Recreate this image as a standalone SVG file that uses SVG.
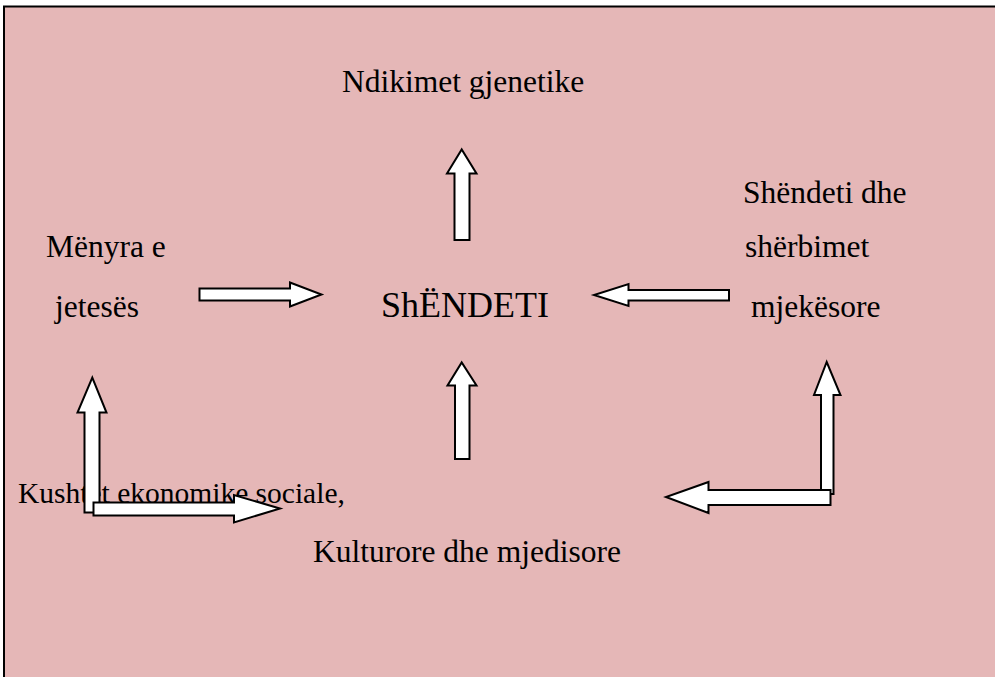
<svg xmlns="http://www.w3.org/2000/svg" width="995" height="677" viewBox="0 0 995 677">
<style>
.t{font-family:"Liberation Serif","Times New Roman",serif;font-size:31.5px;fill:#000}
.a{fill:#fff;stroke:#000;stroke-width:2;stroke-linejoin:miter}
</style>
<rect x="0" y="0" width="995" height="677" fill="#fff"/>
<rect id="frame" x="4" y="6.5" width="1000" height="700" fill="#E5B7B7" stroke="#000" stroke-width="2"/>
<g id="ndikimet"><text class="t" x="342" y="92">Ndikimet gjenetike</text></g>
<g id="menyra"><text class="t" x="46" y="257">Mënyra e</text><text class="t" x="55" y="317">jetesës</text></g>
<g id="shendeti"><text class="t" x="381" y="317" style="font-size:36px">ShËNDETI</text></g>
<g id="sherbimet"><text class="t" x="743" y="203">Shëndeti dhe</text><text class="t" x="745" y="257">shërbimet</text><text class="t" x="751" y="317">mjekësore</text></g>
<g id="kushtet"><text class="t" x="18" y="503" style="font-size:29.5px">Kushtet ekonomike,sociale,</text><text class="t" x="313" y="562">Kulturore dhe mjedisore</text></g>
<g id="connectors">
<polygon class="a" points="199.5,288.5 290,288.5 290,282.5 321.5,294.5 290,306.5 290,300.5 199.5,300.5"/>
<polygon class="a" points="454.5,240 454.5,173.5 447,173.5 461.7,149.5 476.5,173.5 469.5,173.5 469.5,240"/>
<polygon class="a" points="729,290 628.5,290 628.5,284 594,295 628.5,306 628.5,300.5 729,300.5"/>
<polygon class="a" points="455,459 455,385.5 447.5,385.5 461.7,362.5 476.5,385.5 469.5,385.5 469.5,459"/>
<polygon class="a" points="84.5,512.5 84.5,412.5 77.5,412.5 92.3,377.5 106.5,412.5 99.5,412.5 99.5,512.5"/>
<polygon class="a" points="93.5,502.5 234,502.5 234,495 280,508.5 234,522.5 234,515.5 93.5,515.5"/>
<polygon class="a" points="821,494 821,395 814,395 826.7,362 840.5,395 833.5,395 833.5,494"/>
<polygon class="a" points="830.5,490 708.5,490 708.5,482 666,497 708.5,513 708.5,505 830.5,505"/>
</g>
</svg>
